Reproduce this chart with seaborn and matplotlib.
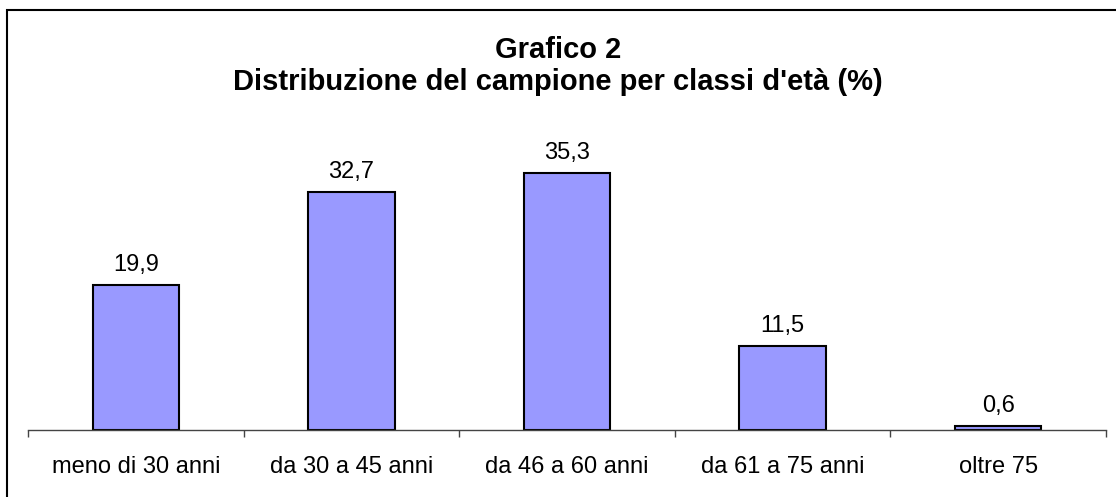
"""
Grafico 2 - distribuzione del campione per classi d'età.
"""

import numpy as np
import pandas as pd
import matplotlib
matplotlib.use('Agg')
import matplotlib.pyplot as plt
import seaborn as sns
from matplotlib.patches import Rectangle

# Data
classi = ['meno di 30 anni', 'da 30 a 45 anni', 'da 46 a 60 anni',
          'da 61 a 75 anni', 'oltre 75']
percentuali = [19.9, 32.7, 35.3, 11.5, 0.6]

BAR_COLOR = '#9999FF'

sns.set_style('white')
plt.rcParams['font.family'] = ['Liberation Sans', 'DejaVu Sans']
plt.rcParams['text.color'] = 'black'
plt.rcParams['xtick.color'] = 'black'

df = pd.DataFrame({'classe': classi, 'perc': percentuali})

fig = plt.figure(figsize=(11.16, 4.97), dpi=100)
W, H = 1116, 497

# outer frame (only left and top edges show in the original)
fig.patches.append(Rectangle((7 / W, -0.1), 1.2, (497 - 10) / H + 0.1,
                             transform=fig.transFigure, fill=False,
                             edgecolor='black', linewidth=1.5))

ax = fig.add_axes([28 / W, (H - 430) / H, (1106 - 28) / W, 330 / H])
sns.barplot(data=df, x='classe', y='perc', color=BAR_COLOR, width=0.4,
            edgecolor='black', linewidth=1.5, saturation=1, ax=ax)

ax.set_ylim(0, 330 / 7.28)
ax.set_xlim(-0.5, len(classi) - 0.5)

for i, v in enumerate(percentuali):
    ax.text(i, v + 1.9, f'{v:.1f}'.replace('.', ','), ha='center', va='baseline',
            fontsize=17, color='black')

for side in ['left', 'right', 'top']:
    ax.spines[side].set_visible(False)
ax.spines['bottom'].set_color('#444444')
ax.spines['bottom'].set_linewidth(1)

ax.set_yticks([])
ax.set_xlabel('')
ax.set_ylabel('')
ax.set_xticks(range(len(classi)))
ax.set_xticklabels(classi, fontsize=17, color='black')
ax.tick_params(axis='x', which='major', length=0, pad=19)
ax.set_xticks(np.arange(-0.5, len(classi)), minor=True)
ax.tick_params(axis='x', which='minor', bottom=True, length=5, width=1,
               color='#444444', direction='out')

fig.text(0.5, 1 - 58 / H, 'Grafico 2', ha='center', va='baseline',
         fontsize=21, fontweight='bold', color='black')
fig.text(0.5, 1 - 90 / H, "Distribuzione del campione per classi d'età (%)",
         ha='center', va='baseline', fontsize=21, fontweight='bold', color='black')

fig.savefig('out.png', dpi=100)
